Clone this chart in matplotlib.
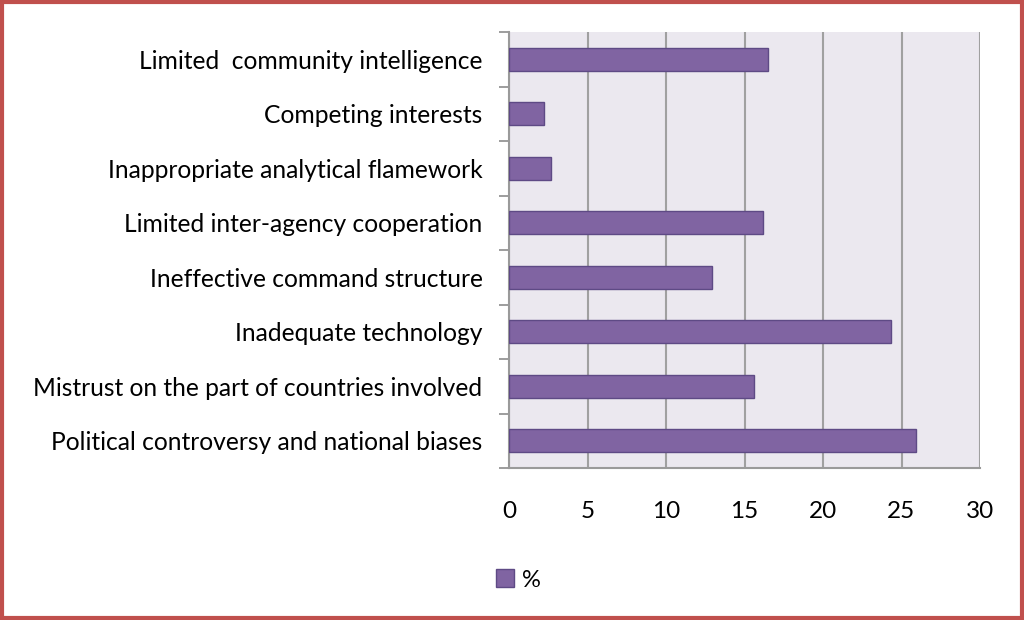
import matplotlib.pyplot as plt
import numpy as np
from matplotlib.patches import Rectangle

categories = [
    'Political controversy and national biases',
    'Mistrust on the part of countries involved',
    'Inadequate technology',
    'Ineffective command structure',
    'Limited inter-agency cooperation',
    'Inappropriate analytical flamework',
    'Competing interests',
    'Limited  community intelligence',
]
values = [25.9, 15.6, 24.3, 12.95, 16.15, 2.7, 2.2, 16.5]
xticks = [0, 5, 10, 15, 20, 25, 30]

plt.rcParams['font.family'] = ['Lato', 'DejaVu Sans']

fig = plt.figure(figsize=(10.24, 6.2), dpi=100)
ax = fig.add_axes([509 / 1024, 1 - 468 / 620, (980 - 509) / 1024, (468 - 32) / 620])

y = np.arange(len(categories))
ax.barh(y, values, height=0.43, color='#8064A2', edgecolor='#5E4A85', linewidth=1.0,
        label='%', zorder=3)

ax.set_xlim(0, 30)
ax.set_ylim(-0.5, len(categories) - 0.5)
ax.set_facecolor('#EBE8EF')
ax.set_xticks(xticks)
ax.set_xticklabels([str(t) for t in xticks], fontsize=17.5)
ax.set_yticks(y)
ax.set_yticklabels(categories, fontsize=17.7)
ax.set_yticks(np.arange(-0.5, len(categories)), minor=True)
ax.tick_params(axis='y', which='major', length=0, pad=19)
ax.tick_params(axis='y', which='minor', length=7, color='#8C8C8C', width=1.2)
ax.tick_params(axis='x', length=0, pad=24)
ax.grid(axis='x', color='#A0A0A0', linewidth=1.5, zorder=1)
for side in ['top', 'right']:
    ax.spines[side].set_visible(False)
for side in ['left', 'bottom']:
    ax.spines[side].set_color('#9A9A9A')
    ax.spines[side].set_linewidth(1.5)

fig.legend(loc='center', bbox_to_anchor=(518 / 1024, 1 - 580 / 620), frameon=False,
           fontsize=17, handlelength=0.8, handleheight=0.8, handletextpad=0.3)

fig.patches.append(Rectangle((0.002, 0.003), 0.996, 0.994, transform=fig.transFigure,
                             fill=False, edgecolor='#C0504D', linewidth=3))

fig.savefig('out.png', dpi=100)
